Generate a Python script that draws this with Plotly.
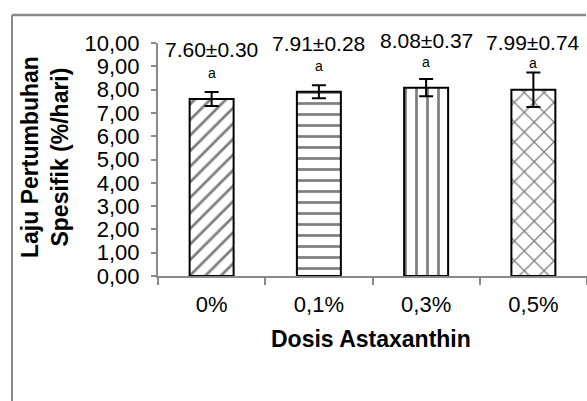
import plotly.graph_objects as go

categories = ["0%", "0,1%", "0,3%", "0,5%"]
means = [7.60, 7.91, 8.08, 7.99]
errors = [0.30, 0.28, 0.37, 0.74]
value_labels = ["7.60±0.30", "7.91±0.28", "8.08±0.37", "7.99±0.74"]
letters = ["a", "a", "a", "a"]
y_ticks = [0, 1, 2, 3, 4, 5, 6, 7, 8, 9, 10]

patterns = ["/", "-", "|", "x"]
pattern_sizes = [11, 11, 11, 14]
pattern_solid = [0.25, 0.25, 0.25, 0.18]

W, H = 587, 401
L, R, T, B = 158, 0, 43, 125
PW = W - L - R
PH = H - T - B

def px(x):
    return (x - L) / PW

def py(y):
    return (H - B - y) / PH

FONT = "Liberation Sans, Arial, sans-serif"
GRAY = "#8a8a8a"

fig = go.Figure()
for i, c in enumerate(categories):
    fig.add_trace(go.Bar(
        x=[c], y=[means[i]],
        width=0.41,
        marker=dict(
            color="white",
            line=dict(color="black", width=2),
            pattern=dict(shape=patterns[i], fgcolor="black", bgcolor="white",
                         size=pattern_sizes[i], solidity=pattern_solid[i]),
        ),
        error_y=dict(type="data", array=[errors[i]], color="black",
                     thickness=2, width=7, visible=True),
        showlegend=False,
        cliponaxis=False,
    ))

# pixel offsets above error bar top
label_shift = [42, 42, 39, 30]
letter_shift = [19, 19, 17, 10]
annotations = []
for i, c in enumerate(categories):
    top = means[i] + errors[i]
    annotations.append(dict(x=c, y=top, xref="x", yref="y", text=value_labels[i],
                            showarrow=False, yshift=label_shift[i], yanchor="middle",
                            font=dict(size=21, color="black", family=FONT)))
    annotations.append(dict(x=c, y=top, xref="x", yref="y", text=letters[i],
                            showarrow=False, yshift=letter_shift[i], yanchor="middle",
                            font=dict(size=14, color="black", family=FONT)))

annotations.append(dict(x=px(45), y=py(157), xref="paper", yref="paper",
                        text="<b>Laju Pertumbuhan<br>Spesifik (%/hari)</b>",
                        textangle=-90, showarrow=False, xanchor="center", yanchor="middle",
                        font=dict(size=23, color="black", family=FONT)))
annotations.append(dict(x=px(371), y=py(339), xref="paper", yref="paper",
                        text="<b>Dosis Astaxanthin</b>",
                        showarrow=False, xanchor="center", yanchor="middle",
                        font=dict(size=23, color="black", family=FONT)))

frame = [
    dict(type="line", xref="paper", yref="paper", layer="above",
         x0=px(12), x1=px(W - 1), y0=py(15), y1=py(15),
         line=dict(color=GRAY, width=2.5)),
    dict(type="line", xref="paper", yref="paper", layer="above",
         x0=px(12), x1=px(12), y0=py(15), y1=py(H + 5),
         line=dict(color=GRAY, width=2)),
]

fig.update_layout(
    width=W, height=H,
    margin=dict(l=L, r=R, t=T, b=B),
    plot_bgcolor="white", paper_bgcolor="white",
    separators=",.",
    bargap=0.59,
    annotations=annotations,
    shapes=frame,
    font=dict(family=FONT, color="black"),
)
fig.update_yaxes(range=[0, 10], tickvals=y_ticks, tickformat=".2f",
                 showline=True, linecolor=GRAY, linewidth=2,
                 ticks="outside", ticklen=5, tickcolor=GRAY, tickwidth=2,
                 showgrid=False, zeroline=False,
                 tickfont=dict(size=22, color="black", family=FONT),
                 ticklabelstandoff=7)
fig.update_xaxes(showline=True, linecolor=GRAY, linewidth=2,
                 ticks="outside", ticklen=7, tickcolor=GRAY, tickwidth=2,
                 tickson="boundaries", showgrid=False,
                 tickfont=dict(size=22, color="black", family=FONT),
                 ticklabelstandoff=8)

fig.write_html("out.html",
               config={"displayModeBar": False},
               post_script="document.body.style.margin='0';document.body.style.overflow='hidden';")
